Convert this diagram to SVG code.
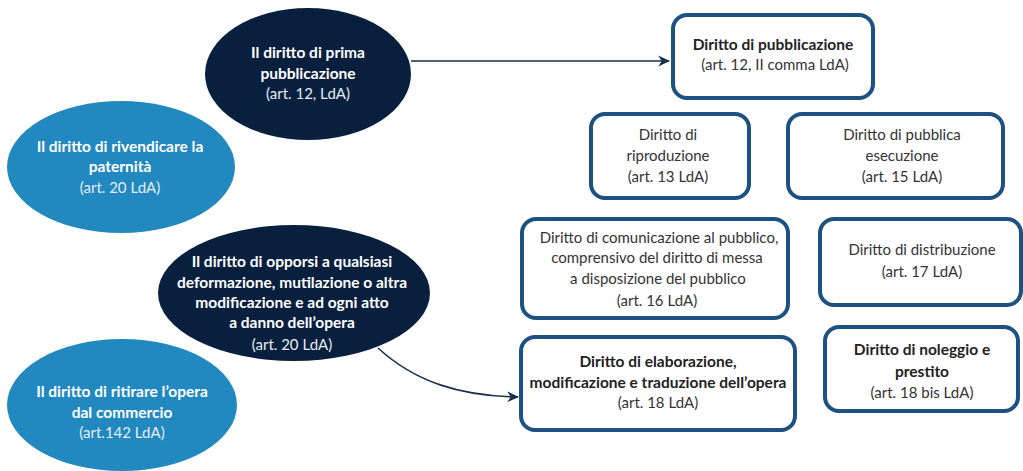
<svg xmlns="http://www.w3.org/2000/svg" width="1023" height="471" viewBox="0 0 1023 471">
<style>
text{font-family:Lato,"Open Sans","Liberation Sans",sans-serif;font-size:15px;text-anchor:middle}
.dark{fill:#08203e}
.light{fill:#2189c0}
.wb{fill:#ffffff;font-weight:bold;font-size:15.5px}
.wr{fill:#e6edf4}
.box{fill:#ffffff;stroke:#1d5182;stroke-width:4}
.bt{fill:#333333}
.bb{fill:#222222;font-weight:bold;font-size:15.5px}
.conn{fill:none;stroke:#17304f;stroke-width:1.6}
</style>
<defs>
<marker id="ah" viewBox="0 0 10 10" refX="9" refY="5" markerWidth="12" markerHeight="12" markerUnits="userSpaceOnUse" orient="auto">
<path d="M0,0.5 L10,5 L0,9.5 L3,5 Z" fill="#17304f"/>
</marker>
</defs>
<g id="connectors">
<path class="conn" d="M411,61 L669,61" marker-end="url(#ah)"/>
<path class="conn" d="M378,348 C415,382 460,396 518,397" marker-end="url(#ah)"/>
</g>
<g id="e-prima">
<ellipse class="dark" cx="308" cy="74" rx="103" ry="66"/>
<text class="wb" x="308" y="58">Il diritto di prima</text>
<text class="wb" x="308" y="79">pubblicazione</text>
<text class="wr" x="308" y="99">(art. 12, LdA)</text>
</g>
<g id="e-rivendicare">
<ellipse class="light" cx="121" cy="167" rx="114" ry="66"/>
<text class="wb" x="120" y="152">Il diritto di rivendicare la</text>
<text class="wb" x="120" y="172">paternità</text>
<text class="wr" x="120" y="193">(art. 20 LdA)</text>
</g>
<g id="e-opporsi">
<ellipse class="dark" cx="294" cy="293" rx="136" ry="68"/>
<text class="wb" x="292" y="267">Il diritto di opporsi a qualsiasi</text>
<text class="wb" x="292" y="288">deformazione, mutilazione o altra</text>
<text class="wb" x="292" y="308">modificazione e ad ogni atto</text>
<text class="wb" x="292" y="328">a danno dell’opera</text>
<text class="wr" x="292" y="350">(art. 20 LdA)</text>
</g>
<g id="e-ritirare">
<ellipse class="light" cx="122" cy="405" rx="115" ry="66"/>
<text class="wb" x="122" y="397">Il diritto di ritirare l’opera</text>
<text class="wb" x="122" y="418">dal commercio</text>
<text class="wr" x="122" y="438">(art.142 LdA)</text>
</g>
<g id="b-pubblicazione">
<rect class="box" x="673" y="15" width="200" height="83" rx="14"/>
<text class="bb" x="773" y="50">Diritto di pubblicazione</text>
<text class="bt" x="775" y="70">(art. 12, II comma LdA)</text>
</g>
<g id="b-riproduzione">
<rect class="box" x="591" y="114" width="158" height="84" rx="14"/>
<text class="bt" x="668" y="140">Diritto di</text>
<text class="bt" x="668" y="161">riproduzione</text>
<text class="bt" x="668" y="182">(art. 13 LdA)</text>
</g>
<g id="b-esecuzione">
<rect class="box" x="788" y="114" width="215" height="84" rx="14"/>
<text class="bt" x="902" y="140">Diritto di pubblica</text>
<text class="bt" x="902" y="161">esecuzione</text>
<text class="bt" x="902" y="182">(art. 15 LdA)</text>
</g>
<g id="b-comunicazione">
<rect class="box" x="522" y="219" width="266" height="99" rx="14"/>
<text class="bt" x="659" y="243">Diritto di comunicazione al pubblico,</text>
<text class="bt" x="657" y="263">comprensivo del diritto di messa</text>
<text class="bt" x="658" y="284">a disposizione del pubblico</text>
<text class="bt" x="657" y="306">(art. 16 LdA)</text>
</g>
<g id="b-distribuzione">
<rect class="box" x="820" y="219" width="201" height="86" rx="14"/>
<text class="bt" x="922" y="255">Diritto di distribuzione</text>
<text class="bt" x="922" y="277">(art. 17 LdA)</text>
</g>
<g id="b-elaborazione">
<rect class="box" x="521" y="337" width="274" height="93" rx="14"/>
<text class="bb" x="658" y="367">Diritto di elaborazione,</text>
<text class="bb" x="658" y="388">modificazione e traduzione dell’opera</text>
<text class="bt" x="658" y="408">(art. 18 LdA)</text>
</g>
<g id="b-noleggio">
<rect class="box" x="825" y="327" width="193" height="84" rx="14"/>
<text class="bb" x="922" y="355">Diritto di noleggio e</text>
<text class="bb" x="922" y="377">prestito</text>
<text class="bt" x="922" y="398">(art. 18 bis LdA)</text>
</g>
</svg>
